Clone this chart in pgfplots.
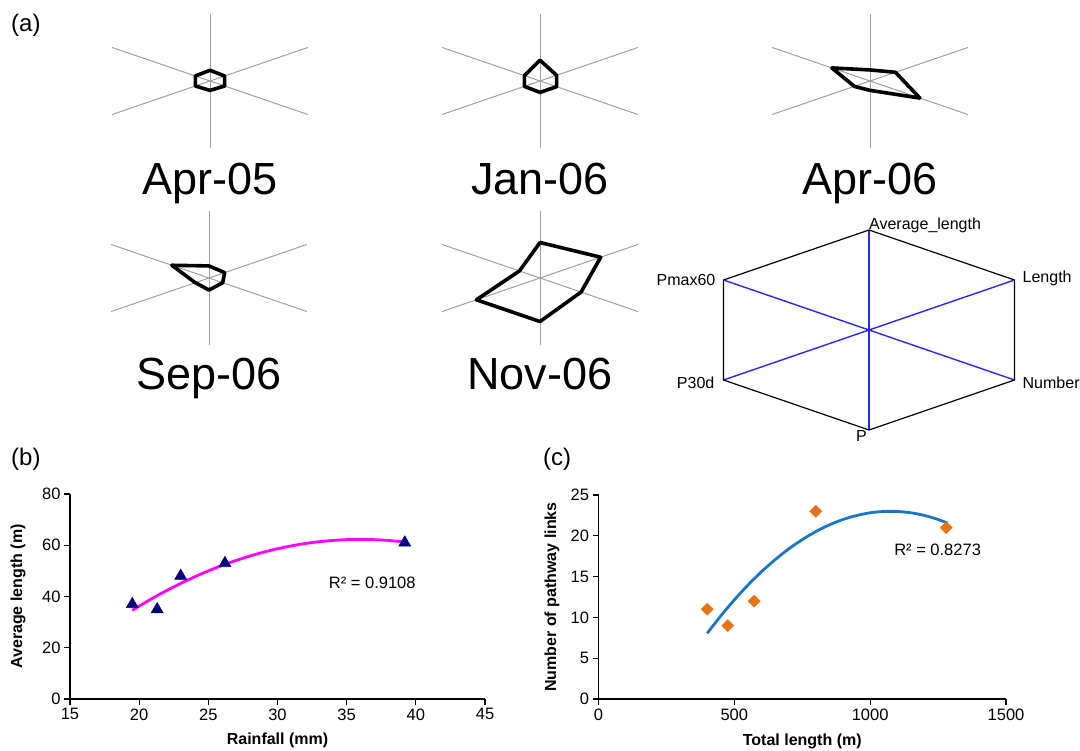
\documentclass[border=0pt]{standalone}
\usepackage{fontspec}
\setmainfont{Liberation Sans}
\usepackage{pgfplots}
\usepackage{pgfplotstable}
\pgfplotsset{compat=1.18}
\definecolor{spoke}{RGB}{160,160,160}
\definecolor{trinavy}{RGB}{0,0,128}
\definecolor{curveblue}{RGB}{22,118,202}
\definecolor{dorange}{RGB}{232,114,20}
\definecolor{legblue}{RGB}{40,40,255}
\definecolor{trendmag}{RGB}{255,0,255}
\newcommand{\fs}[1]{\fontsize{#1}{#1}\selectfont}

% radar values (0 = centre, 1 = end of spoke); a = spoke angle
% 90 Average_length, 30 Length, -30 Number, -90 P, 210 P30d, 150 Pmax60
\pgfplotstableread{
a apr05 jan06 apr06 sep06 nov06
90 0.16 0.31 0.165 0.18 0.53
30 0.15 0.17 0.26 0.16 0.62
-30 0.15 0.17 0.51 0.14 0.42
-90 0.14 0.17 0.14 0.18 0.65
210 0.15 0.16 0.16 0.14 0.65
150 0.15 0.16 0.39 0.38 0.21
90 0.16 0.31 0.165 0.18 0.53
}\radardata

\pgfplotstableread{
a r
90 1
30 1
-30 1
-90 1
210 1
150 1
90 1
}\hexframe

\pgfplotsset{radar/.style={hide axis, x=113pt, y=67pt, xmin=-1, xmax=1, ymin=-1, ymax=1, clip=false, anchor=center}}
\newcommand{\spokes}[2]{%
\addplot[#1,line width=#2] coordinates {(0,1) (0,-1)};
\addplot[#1,line width=#2] coordinates {(0.866,0.5) (-0.866,-0.5)};
\addplot[#1,line width=#2] coordinates {(0.866,-0.5) (-0.866,0.5)};}
\newcommand{\radarpoly}[1]{%
\addplot[black, line width=3.6pt, line join=round, line cap=round] table[x expr={\thisrow{#1}*cos(\thisrow{a})}, y expr={\thisrow{#1}*sin(\thisrow{a})}] {\radardata};}

\pgfplotsset{scat/.style={scale only axis, axis lines*=left,
  axis line style={black,line width=1.1pt}, tick style={black,line width=1.1pt},
  tick align=outside, major tick length=6pt,
  ticklabel style={font=\fs{16.5}}, /pgf/number format/assume math mode=true,
  /pgf/number format/1000 sep={},
  label style={font=\bfseries\fs{16}}, clip=false}}

\begin{document}
\begin{tikzpicture}
\path[use as bounding box] (0,0) rectangle (1080pt,-751pt);

% ---------- (a) small radars ----------
\begin{axis}[radar, at={(210pt,-81pt)}]
\spokes{spoke}{1pt}
\radarpoly{apr05}
\end{axis}
\begin{axis}[radar, at={(540pt,-81pt)}]
\spokes{spoke}{1pt}
\radarpoly{jan06}
\end{axis}
\begin{axis}[radar, at={(870pt,-81pt)}]
\spokes{spoke}{1pt}
\radarpoly{apr06}
\end{axis}
\begin{axis}[radar, at={(209pt,-278pt)}]
\spokes{spoke}{1pt}
\radarpoly{sep06}
\end{axis}
\begin{axis}[radar, at={(540pt,-278pt)}]
\spokes{spoke}{1pt}
\radarpoly{nov06}
\end{axis}

\node[anchor=base, inner sep=0, font=\fs{45}] at (210pt,-195pt) {Apr-05};
\node[anchor=base, inner sep=0, font=\fs{45}] at (540pt,-195pt) {Jan-06};
\node[anchor=base, inner sep=0, font=\fs{45}] at (870pt,-195pt) {Apr-06};
\node[anchor=base, inner sep=0, font=\fs{45}] at (209pt,-390pt) {Sep-06};
\node[anchor=base, inner sep=0, font=\fs{45}] at (540pt,-390pt) {Nov-06};

% ---------- legend radar ----------
\begin{axis}[radar, x=168pt, y=100pt, at={(869pt,-330pt)}]
\spokes{legblue}{1.4pt}
\addplot[black, line width=1.2pt] table[x expr={\thisrow{r}*cos(\thisrow{a})}, y expr={\thisrow{r}*sin(\thisrow{a})}] {\hexframe};
\node[anchor=base west, inner sep=0, font=\fs{16}] at (axis cs:0,1) {Average\_length};
\node[anchor=west, inner sep=0, xshift=8pt, yshift=1.5pt, font=\fs{16}] at (axis cs:0.866,0.5) {Length};
\node[anchor=west, inner sep=0, xshift=8pt, yshift=-2.5pt, font=\fs{16}] at (axis cs:0.866,-0.5) {Number};
\node[anchor=north east, inner sep=0, xshift=-2pt, font=\fs{16}] at (axis cs:0,-1) {P};
\node[anchor=east, inner sep=0, xshift=-9pt, yshift=-3pt, font=\fs{16}] at (axis cs:-0.866,-0.5) {P30d};
\node[anchor=east, inner sep=0, xshift=-8pt, font=\fs{16}] at (axis cs:-0.866,0.5) {Pmax60};
\end{axis}

% ---------- panel labels ----------
\node[anchor=base west, inner sep=0, font=\fs{24}] at (11pt,-32pt) {(a)};
\node[anchor=base west, inner sep=0, font=\fs{24}] at (11pt,-465pt) {(b)};
\node[anchor=base west, inner sep=0, font=\fs{24}] at (543pt,-465pt) {(c)};

% ---------- (b) ----------
\begin{axis}[scat, at={(70pt,-699pt)}, anchor=south west, width=415pt, height=205pt,
  xmin=15, xmax=45, ymin=0, ymax=80, xtick={15,20,...,45}, ytick={0,20,...,80},
  xlabel={Rainfall (mm)}, ylabel={Average length (m)},
  xlabel style={at={(axis description cs:0.5,-0.203)}, anchor=center},
  ylabel style={at={(axis description cs:-0.125,0.5)}, anchor=center}]
\addplot[trendmag, line width=2.8pt, smooth] coordinates {
(19.5,34.6) (20.5,37.87) (21.5,40.92) (22.5,43.77) (23.5,46.41) (24.5,48.85)
(25.5,51.09) (26.5,53.12) (27.5,54.95) (28.5,56.58) (29.5,58.0) (30.5,59.22)
(31.5,60.24) (32.5,61.05) (33.5,61.66) (34.5,62.07) (35.5,62.27) (36.5,62.27)
(37.5,62.07) (38.5,61.66) (39.2,61.26)};
\addplot[only marks, mark=triangle*, mark size=7pt, color=trinavy] coordinates {
(19.5,37) (21.3,35) (23,48) (26.2,53) (39.2,61)};
\node[anchor=west, inner sep=0, font=\fs{16.5}] at (axis cs:33.7,45.5) {R² = 0.9108};
\end{axis}

% ---------- (c) ----------
\begin{axis}[scat, at={(598.5pt,-699pt)}, anchor=south west, width=407.5pt, height=204pt,
  xmin=0, xmax=1500, ymin=0, ymax=25, xtick={0,500,1000,1500}, ytick={0,5,...,25},
  xlabel={Total length (m)}, ylabel={Number of pathway links},
  xlabel style={at={(axis description cs:0.5,-0.209)}, anchor=center},
  ylabel style={at={(axis description cs:-0.114,0.5)}, anchor=center}]
\addplot[curveblue, line width=2.8pt, smooth] coordinates {
(400,8.05) (450,10.18) (500,12.15) (550,13.96) (600,15.60) (650,17.07) (700,18.39)
(750,19.53) (800,20.52) (850,21.34) (900,22.0) (950,22.49) (1000,22.82) (1050,22.98)
(1100,22.98) (1150,22.82) (1200,22.49) (1250,22.0) (1285,21.55)};
\addplot[only marks, mark=square*, mark size=4.3pt, mark options={rotate=45}, color=dorange] coordinates {
(400,11) (476,9) (573,12) (800,23) (1280,21)};
\node[anchor=west, inner sep=0, font=\fs{16.5}] at (axis cs:1088,18.26) {R² = 0.8273};
\end{axis}
\end{tikzpicture}
\end{document}
